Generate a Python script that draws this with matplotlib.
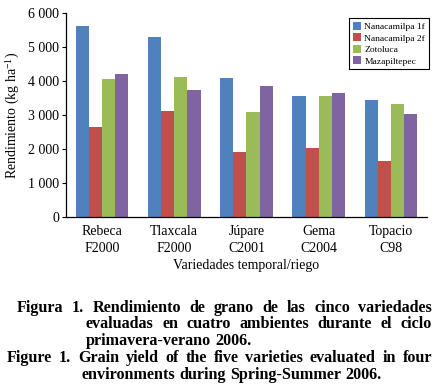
import numpy as np
import matplotlib
matplotlib.use("Agg")
import matplotlib.pyplot as plt
from matplotlib.ticker import FuncFormatter

# ------------------------------------------------------------
# datos
# ------------------------------------------------------------
variedades = ["Rebeca\nF2000", "Tlaxcala\nF2000", "Júpare\nC2001", "Gema\nC2004", "Topacio\nC98"]
ambientes = ["Nanacamilpa 1f", "Nanacamilpa 2f", "Zotoluca", "Mazapiltepec"]

nanacamilpa_1f = [5620, 5300, 4080, 3570, 3440]
nanacamilpa_2f = [2650, 3110, 1900, 2020, 1650]
zotoluca = [4050, 4120, 3100, 3570, 3320]
mazapiltepec = [4210, 3740, 3850, 3650, 3030]

series = [nanacamilpa_1f, nanacamilpa_2f, zotoluca, mazapiltepec]
colores = ["#4F81BD", "#C0504D", "#9BBB59", "#8064A2"]

leyenda_es = [
    "Figura 1. Rendimiento de grano de las cinco variedades",
    "evaluadas en cuatro ambientes durante el ciclo",
    "primavera-verano 2006.",
]
leyenda_en = [
    "Figure 1. Grain yield of the five varieties evaluated in four",
    "environments during Spring-Summer 2006.",
]

plt.rcParams["font.family"] = ["Liberation Serif", "DejaVu Serif"]
plt.rcParams["mathtext.fontset"] = "stix"

W, H = 439, 386
fig = plt.figure(figsize=(W / 100, H / 100), dpi=100)
ax = fig.add_axes([66 / W, 1 - 217 / H, 361 / W, 204 / H])

x = np.arange(len(variedades))
ancho = 1 / 5.5
for i, (valores, color, nombre) in enumerate(zip(series, colores, ambientes)):
    ax.bar(x + (i - 1.5) * ancho, valores, ancho, color=color, label=nombre)

ax.set_xlim(-0.5, len(variedades) - 0.5)
ax.set_ylim(0, 6000)
ax.set_yticks(range(0, 6001, 1000))
ax.yaxis.set_major_formatter(FuncFormatter(lambda v, p: f"{int(v):,}".replace(",", " ")))
ax.set_xticks(x)
ax.set_xticklabels(variedades, fontsize=10, linespacing=1.35)
ax.tick_params(axis="x", length=0, pad=6)
ax.tick_params(axis="y", labelsize=10, length=3, width=0.8, pad=2)

for lado in ["top", "right"]:
    ax.spines[lado].set_visible(False)
for lado in ["left", "bottom"]:
    ax.spines[lado].set_linewidth(0.9)

ax.set_xlabel("Variedades temporal/riego", fontsize=10, labelpad=3)
ax.set_ylabel(r"Rendimiento (kg ha$^{\mathregular{-1}}$)", fontsize=10, labelpad=4)

leg = ax.legend(loc="upper right", bbox_to_anchor=(1.005, 0.975), fontsize=6.8,
                frameon=True, fancybox=False, edgecolor="black", framealpha=1,
                handlelength=0.9, handleheight=0.9, handletextpad=0.3,
                labelspacing=0.25, borderpad=0.4, borderaxespad=0)
leg.get_frame().set_linewidth(0.8)

# ------------------------------------------------------------
# pie de figura justificado
# ------------------------------------------------------------
renderer = fig.canvas.get_renderer()
TAM = 11.6


def ancho_texto(s, size):
    t = fig.text(0, 0, s, fontsize=size, fontweight="bold")
    w = t.get_window_extent(renderer).width
    t.remove()
    return w


def linea_justificada(texto, x0, x1, y, justificar=True, size=TAM):
    palabras = texto.split(" ")
    objetos = [fig.text(0, 1 - y / H, p, fontsize=size, fontweight="bold", va="baseline")
               for p in palabras]
    anchos = [o.get_window_extent(renderer).width for o in objetos]
    if justificar and len(palabras) > 1:
        hueco = (x1 - x0 - sum(anchos)) / (len(palabras) - 1)
    else:
        hueco = ancho_texto("a a", size) - ancho_texto("aa", size)
    pos = x0
    for o, a in zip(objetos, anchos):
        o.set_x(pos / W)
        pos += a + hueco


linea_justificada(leyenda_es[0], 17, 432, 312)
linea_justificada(leyenda_es[1], 86, 432, 328)
linea_justificada(leyenda_es[2], 86, 432, 345, justificar=False)
linea_justificada(leyenda_en[0], 7, 432, 362)
linea_justificada(leyenda_en[1], 82, 432, 379, justificar=False)

fig.savefig("out.png", dpi=100)
